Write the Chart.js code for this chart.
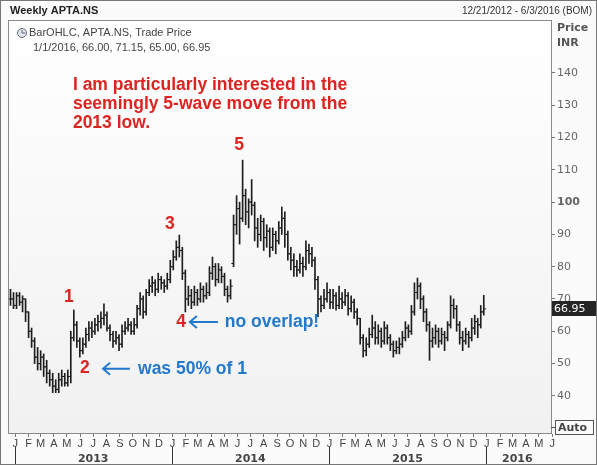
<!DOCTYPE html>
<html>
<head>
<meta charset="utf-8">
<script src="https://cdn.jsdelivr.net/npm/chart.js@4.4.1/dist/chart.umd.min.js"></script>
<style>
  html, body { margin: 0; padding: 0; background: #fff; }
  canvas { display: block; }
</style>
</head>
<body>
<canvas id="myChart" width="597" height="465"></canvas>
<script>
// weekly bars, week 0 = 12/21/2012, last = 1/1/2016
var opens = [70,70,68,71,69,70,66,60,57,52, 50,52,49,47,45,43,42,45,46,44,
  46,58,62,57,54,56,59,61,60,62, 63,64,65,61,59,57,58,56,60,61,
  62,60,62,67,70,66,72,74,75,73, 76,75,74,76,80,83,86,85,78,70,
  71,69,72,70,73,71,72,78,80,76, 79,77,73,71,81,93,98,95,102,97,
  100,99,92,90,94,89,91,86,90,88, 92,95,90,84,82,80,79,81,80,85,
  84,82,76,70,68,70,72,69,71,68, 70,69,71,67,69,66,64,58,54,56,
  59,61,58,60,57,61,58,56,54,55, 56,58,61,60,66,72,74,70,66,62,
  57,58,60,57,59,58,62,68,67,62, 58,57,59,58,61,63,62,66];
var highs = [73,72,72,72,71,70,66,61,58,55, 54,53,51,48,47,45,47,48,47,48,
  60,66.6,63,58,58,61,63,63,64,65, 66,68.5,66,62,60,60,59,62,63,64,
  63,64,68,72,71,73,76,77,76,78, 77,76,78,82,85,88,89.8,86,79,74,
  73,74,73,75,74,75,80,83,81,81, 80,78,74,76,96,102,100,113,104,101,
  107,100,95,96,95,93,92,92,91,94, 98.5,97,91,86,84,82,84,83,88,87,
  86,83,77,71,73,75,73,73,72,74, 72,73,72,71,70,67,64,59,58,61,
  65,63,62,61,63,62,59,57,57,58, 60,63,62,68,75,76.5,75,71,67,63,
  61,62,61,61,60,63,71,70,68,63, 60,61,60,64,65,64,68,71.15];
var lows = [68,67,67,68,66,63,58,55,50,48, 48,46,44,43,41,41,41,43,43,43,
  44,57,55,52,53,55,57,58,59,60, 61,62,60,57,55,56,54,55,59,60,
  59,59,61,65,64,65,71,72,71,72, 73,72,73,75,79,82,83,76,66,68,
  67,68,68,69,69,70,71,76,74,75, 75,71,69,70,80,90,87,94,93,92,
  96,88,86,88,85,86,83,85,84,87, 90,86,82,79,77,77,78,77,79,81,
  80,73,64.5,66,67,69,67,67,66.5,67, 67,68,65,66,64,62,56,52,52.4,55,
  58,56,56,55,56,56,54,52,53,53, 55,57,58,59,65,70,67,63,60,51,
  55,56,55,56,54,57,61,64,60,56, 54,56,55,57,59,58,61,65];
var closes = [70,68,71,69,70,66,60,57,52,50, 52,49,47,45,43,42,45,46,44,46,
  58,62,57,54,56,59,61,60,62,63, 64,65,61,59,57,58,56,60,61,62,
  60,62,67,70,66,72,74,75,73,76, 75,74,76,80,83,86,85,78,70,71,
  69,72,70,73,71,72,78,80,76,79, 77,73,71,74,93,98,95,102,97,100,
  99,92,90,94,89,91,86,90,88,92, 95,90,84,82,80,79,81,80,85,84,
  82,76,70,68,70,72,69,71,68,70, 69,71,67,69,66,64,58,54,56,59,
  61,58,60,57,61,58,56,54,55,56, 58,61,60,66,72,74,70,66,62,57,
  58,60,57,59,58,62,68,67,62,58, 57,59,58,61,63,62,66,66.95];

var monthLetters = ['J','F','M','A','M','J','J','A','S','O','N','D'];
var yearLabels = ['2013','2014','2015','2016'];
var priceTicks = [40,50,60,70,80,90,100,110,120,130,140];

var waveLabels = ['1','2','3','4','5'];
var waveWeeks = [19.4, 24.7, 52.9, 56.6, 75.8];
var wavePrices = [70.6, 48.7, 93.2, 62.9, 117.7];

var noteLines = ['I am particularly interested in the', 'seemingly 5-wave move from the', '2013 low.'];
var notePrices = [136.3, 130.4, 124.5];
var noteWeek = 20.7;

var callouts = ['was 50% of 1', 'no overlap!'];
var calloutFrom = [30.7, 59.5];
var calloutTo = [39.6, 68.8];
var calloutText = [42.3, 71.1];
var calloutPrice = [48.4, 62.9];

var base = Date.UTC(2012, 11, 21);
function weekOf(y, m, d) {
  return (Date.UTC(y, m, d || 1) - base) / 604800000;
}

var monthTicks = [];
var monthNames = [];
for (var yy = 2013; yy <= 2016; yy++) {
  for (var mm = 0; mm < 12; mm++) {
    if (yy === 2016 && mm > 5) break;
    monthTicks.push(weekOf(yy, mm));
    monthNames.push(monthLetters[mm]);
  }
}
var yearTicks = [weekOf(2013, 0), weekOf(2013, 6), weekOf(2014, 0), weekOf(2014, 6),
  weekOf(2015, 0), weekOf(2015, 6), weekOf(2016, 0), weekOf(2016, 2, 12)];
var yearNames = ['', yearLabels[0], '', yearLabels[1], '', yearLabels[2], '', yearLabels[3]];

var red = '#dc2420';
var blue = '#2279cc';

var decor = {
  id: 'decor',
  beforeDraw: function (chart) {
    var c = chart.ctx, a = chart.chartArea;
    c.save();
    c.fillStyle = '#fbfbfb';
    c.fillRect(0, 0, chart.width, chart.height);
    var g = c.createLinearGradient(0, a.top, 0, a.bottom);
    g.addColorStop(0, '#ffffff');
    g.addColorStop(1, '#f1f1f1');
    c.fillStyle = g;
    c.fillRect(a.left, a.top, a.right - a.left, a.bottom - a.top);
    c.restore();
  },
  afterDraw: function (chart) {
    var c = chart.ctx, a = chart.chartArea;
    var xs = chart.scales.x, ys = chart.scales.y;
    c.save();

    // frame
    c.strokeStyle = '#8a8a8a';
    c.lineWidth = 1;
    c.strokeRect(a.left + 0.5, a.top + 0.5, a.right - a.left, a.bottom - a.top);
    c.strokeStyle = '#777';
    c.strokeRect(0.5, 0.5, chart.width - 1, chart.height - 1);

    // header
    c.fillStyle = '#222';
    c.textBaseline = 'middle';
    c.font = 'bold 11px "Liberation Sans", Arial';
    c.fillText('Weekly APTA.NS', 10, 11);
    c.font = '10px "Liberation Sans", Arial';
    c.fillStyle = '#333';
    c.textAlign = 'right';
    c.fillText('12/21/2012 - 6/3/2016 (BOM)', 592, 11);
    c.textAlign = 'left';
    c.font = 'bold 11px "DejaVu Sans"';
    c.fillStyle = '#555';
    c.fillText('Price', 557, 28);
    c.fillText('INR', 557, 43);

    // legend
    c.beginPath();
    c.arc(22, 33, 4.5, 0, Math.PI * 2);
    c.fillStyle = '#dfe6ee';
    c.fill();
    c.strokeStyle = '#667';
    c.stroke();
    c.beginPath();
    c.moveTo(22, 33); c.lineTo(22, 30);
    c.moveTo(22, 33); c.lineTo(25, 33);
    c.stroke();
    c.fillStyle = '#444';
    c.font = '11px "Liberation Sans", Arial';
    c.fillText('BarOHLC, APTA.NS, Trade Price', 29, 33);
    c.fillText('1/1/2016, 66.00, 71.15, 65.00, 66.95', 33, 48);

    // notes
    c.font = 'bold 17.5px "Liberation Sans", Arial';
    c.fillStyle = red;
    noteLines.forEach(function (t, i) {
      c.fillText(t, xs.getPixelForValue(noteWeek), ys.getPixelForValue(notePrices[i]));
    });
    c.textAlign = 'center';
    waveLabels.forEach(function (t, i) {
      c.fillText(t, xs.getPixelForValue(waveWeeks[i]), ys.getPixelForValue(wavePrices[i]));
    });
    c.textAlign = 'left';
    c.fillStyle = blue;
    c.strokeStyle = blue;
    c.lineWidth = 2;
    callouts.forEach(function (t, i) {
      var y = ys.getPixelForValue(calloutPrice[i]);
      var x0 = xs.getPixelForValue(calloutFrom[i]);
      var x1 = xs.getPixelForValue(calloutTo[i]);
      c.beginPath();
      c.moveTo(x1, y); c.lineTo(x0, y);
      c.moveTo(x0 + 7, y - 6); c.lineTo(x0, y); c.lineTo(x0 + 7, y + 6);
      c.stroke();
      c.fillText(t, xs.getPixelForValue(calloutText[i]), y);
    });

    // last price box
    var last = closes[closes.length - 1];
    var py = Math.round(ys.getPixelForValue(last));
    c.fillStyle = '#262626';
    c.fillRect(a.right + 1, py - 8, 44, 15);
    c.fillStyle = '#fff';
    c.font = '11px "DejaVu Sans"';
    c.fillText(last.toFixed(2), a.right + 3, py);

    // auto box
    c.strokeStyle = '#555';
    c.lineWidth = 1;
    c.beginPath();
    c.moveTo(a.right, 427.5); c.lineTo(a.right + 4, 427.5);
    c.stroke();
    c.strokeRect(555.5, 420.5, 38, 14);
    c.fillStyle = '#444';
    c.font = 'bold 11px "DejaVu Sans"';
    c.fillText('Auto', 558, 428);
    c.restore();
  }
};

var ctx = document.getElementById('myChart').getContext('2d');
var myChart = new Chart(ctx, {
  type: 'bar',
  data: {
    datasets: [
      {
        type: 'bar',
        data: highs.map(function (h, i) { return { x: i, y: [lows[i], h] }; }),
        backgroundColor: '#1e1e1e',
        borderWidth: 0,
        barThickness: 1,
        grouped: false
      },
      {
        type: 'scatter',
        data: opens.map(function (o, i) { return { x: i - 0.35, y: o }; }),
        pointStyle: 'line',
        pointRadius: 1.2,
        borderColor: '#1e1e1e',
        borderWidth: 1
      },
      {
        type: 'scatter',
        data: closes.map(function (v, i) { return { x: i + 0.35, y: v }; }),
        pointStyle: 'line',
        pointRadius: 1.2,
        borderColor: '#1e1e1e',
        borderWidth: 1
      }
    ]
  },
  options: {
    responsive: false,
    animation: false,
    layout: { padding: { left: 8, top: 20, right: 0, bottom: 0 } },
    plugins: { legend: { display: false }, tooltip: { enabled: false } },
    scales: {
      x: {
        type: 'linear',
        position: 'bottom',
        offset: false,
        min: -0.83,
        max: 179.3,
        afterBuildTicks: function (s) { s.ticks = monthTicks.map(function (v) { return { value: v }; }); },
        afterFit: function (s) { s.height = 14; },
        ticks: {
          autoSkip: false,
          maxRotation: 0,
          padding: 0,
          color: '#444',
          font: { family: 'Liberation Sans', size: 11 },
          callback: function (v, i) { return monthNames[i]; }
        },
        grid: { drawOnChartArea: false, tickLength: 4, color: '#777', offset: false },
        border: { color: '#8a8a8a' }
      },
      x2: {
        type: 'linear',
        position: 'bottom',
        offset: false,
        min: -0.83,
        max: 179.3,
        afterBuildTicks: function (s) { s.ticks = yearTicks.map(function (v) { return { value: v }; }); },
        afterFit: function (s) { s.height = 18; },
        ticks: {
          autoSkip: false,
          maxRotation: 0,
          padding: -12,
          color: '#444',
          font: { family: 'DejaVu Sans', size: 11, weight: 'bold' },
          callback: function (v, i) { return yearNames[i]; }
        },
        grid: {
          drawOnChartArea: false,
          offset: false,
          tickLength: 18,
          color: function (c) { return c.index % 2 === 0 ? '#333' : 'rgba(0,0,0,0)'; }
        },
        border: { display: false }
      },
      y: {
        type: 'linear',
        position: 'right',
        min: 28.5,
        max: 156.4,
        afterBuildTicks: function (s) { s.ticks = priceTicks.map(function (v) { return { value: v }; }); },
        afterFit: function (s) { s.width = 46; },
        ticks: {
          padding: 2,
          color: '#666',
          font: function (c) {
            return { family: 'DejaVu Sans', size: 11, weight: c.tick && c.tick.value === 100 ? 'bold' : 'normal' };
          }
        },
        grid: { drawOnChartArea: false, tickLength: 4, color: '#777' },
        border: { color: '#8a8a8a' }
      }
    }
  },
  plugins: [decor]
});
</script>
</body>
</html>
